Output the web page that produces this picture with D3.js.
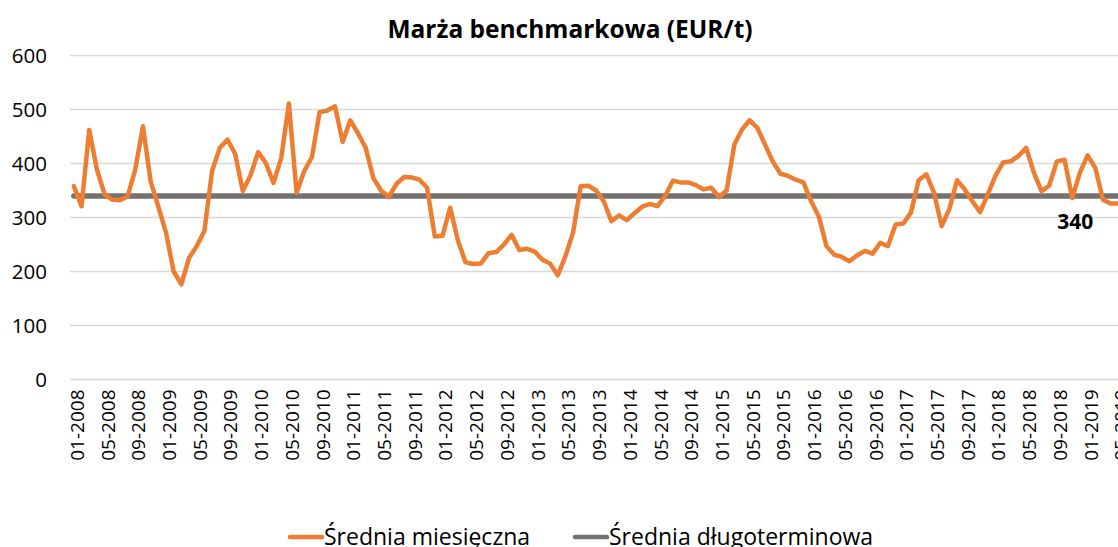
<!DOCTYPE html>
<html>
<head>
<meta charset="utf-8">
<script src="https://cdn.jsdelivr.net/npm/d3@7"></script>
<style>
  body { margin: 0; background: #fff; }
  text { font-family: "Open Sans", sans-serif; }
</style>
</head>
<body>
<div id="chart"></div>
<script>
var monthlyMargin = [
    358, 321, 462, 389, 343, 333, 332, 339, 389, 469, 367, 320,
    272, 200, 176, 225, 247, 275, 386, 429, 444, 418, 349, 378,
    421, 401, 364, 410, 511, 346, 386, 412, 495, 498, 506, 440,
    480, 456, 429, 373, 350, 338, 362, 375, 374, 370, 355, 265,
    266, 318, 258, 217, 214, 215, 234, 236, 250, 268, 240, 242,
    237, 222, 215, 193, 228, 272, 358, 359, 350, 330, 293, 304,
    295, 308, 320, 325, 321, 340, 368, 365, 365, 360, 352, 355,
    338, 350, 435, 463, 480, 466, 435, 404, 381, 377, 370, 365,
    330, 302, 247, 231, 227, 219, 230, 238, 233, 253, 247, 287,
    289, 309, 369, 380, 346, 284, 316, 369, 352, 330, 310, 343,
    377, 402, 404, 414, 429, 383, 349, 359, 404, 407, 336, 383,
    415, 392, 333, 326, 326
];
var longTermAverage = 340;

var yTicks = [0, 100, 200, 300, 400, 500, 600];

var xTickLabels = [
    "01-2008", "05-2008", "09-2008", "01-2009", "05-2009", "09-2009",
    "01-2010", "05-2010", "09-2010", "01-2011", "05-2011", "09-2011",
    "01-2012", "05-2012", "09-2012", "01-2013", "05-2013", "09-2013",
    "01-2014", "05-2014", "09-2014", "01-2015", "05-2015", "09-2015",
    "01-2016", "05-2016", "09-2016", "01-2017", "05-2017", "09-2017",
    "01-2018", "05-2018", "09-2018", "01-2019", "05-2019"
];

var seriesNames = ["Średnia miesięczna", "Średnia długoterminowa"];
var seriesColors = ["#ed7d31", "#767171"];

(function(){
    var width = 1118,
        height = 547;

    var months = d3.timeMonth.range(new Date(2008, 0, 1), new Date(2019, 5, 1));
    var fmt = d3.timeFormat("%m-%Y");

    var data = months.map(function(m, i){
        return {date: m, label: fmt(m), value: monthlyMargin[i]};
    });

    var svg = d3.select("#chart")
        .append("svg")
        .attr("width", width)
        .attr("height", height);

    var step = 7.68;
    var x = d3.scaleBand()
        .domain(data.map(function(d){ return d.label; }))
        .range([70, 70 + data.length * step]);

    var y = d3.scaleLinear()
        .domain([0, 600])
        .range([379.5, 55.5]);

    function cx(label) {
        return x(label) + x.bandwidth() / 2;
    }

    // gridlines
    svg.append("g")
        .selectAll("line")
        .data(yTicks)
        .enter().append("line")
        .attr("x1", 70)
        .attr("x2", width)
        .attr("y1", function(d){ return y(d); })
        .attr("y2", function(d){ return y(d); })
        .attr("stroke", "#d9d9d9")
        .attr("stroke-width", 1.5);

    svg.append("g")
        .selectAll("text")
        .data(yTicks)
        .enter().append("text")
        .attr("x", 47)
        .attr("y", function(d){ return y(d) + 7; })
        .attr("text-anchor", "end")
        .attr("font-size", "20.5px")
        .attr("fill", "#000")
        .text(function(d){ return d; });

    var xAxis = d3.axisBottom(x)
        .tickValues(xTickLabels)
        .tickSize(0);

    var gx = svg.append("g")
        .attr("transform", "translate(0," + y(0) + ")")
        .call(xAxis);
    gx.select(".domain").remove();
    gx.selectAll("text")
        .attr("font-family", "Open Sans, sans-serif")
        .attr("font-size", "19px")
        .attr("fill", "#000")
        .attr("text-anchor", "end")
        .attr("dy", null)
        .attr("transform", "translate(7,10) rotate(-90)");

    var line = d3.line()
        .x(function(d){ return cx(d.label); })
        .y(function(d){ return y(d.value); });

    svg.append("path")
        .datum([data[0], data[data.length - 1]].map(function(d){
            return {label: d.label, value: longTermAverage};
        }))
        .attr("d", line)
        .attr("fill", "none")
        .attr("stroke", seriesColors[1])
        .attr("stroke-width", 5.5)
        .attr("stroke-linecap", "round");

    svg.append("path")
        .datum(data)
        .attr("d", line)
        .attr("fill", "none")
        .attr("stroke", seriesColors[0])
        .attr("stroke-width", 4.5)
        .attr("stroke-linejoin", "round")
        .attr("stroke-linecap", "round");

    svg.append("text")
        .attr("x", cx(data[130].label) + 3)
        .attr("y", y(longTermAverage) + 33)
        .attr("text-anchor", "middle")
        .attr("font-size", "21px")
        .attr("font-weight", "bold")
        .attr("fill", "#000")
        .text(longTermAverage);

    svg.append("text")
        .attr("x", 570)
        .attr("y", 38)
        .attr("text-anchor", "middle")
        .attr("font-size", "24.5px")
        .attr("font-weight", "bold")
        .attr("fill", "#000")
        .text("Marża benchmarkowa (EUR/t)");

    // legend
    var legendX = [290, 575];
    var legend = svg.selectAll(".legend")
        .data(seriesNames)
        .enter().append("g")
        .attr("class", "legend")
        .attr("transform", function(d, i){ return "translate(" + legendX[i] + ",537)"; });

    legend.append("line")
        .attr("x1", 0)
        .attr("x2", 32)
        .attr("stroke", function(d, i){ return seriesColors[i]; })
        .attr("stroke-width", 4.5)
        .attr("stroke-linecap", "round");

    legend.append("text")
        .attr("x", 34)
        .attr("y", 8)
        .attr("font-size", "23px")
        .attr("fill", "#000")
        .text(function(d){ return d; });
})();
</script>
</body>
</html>
